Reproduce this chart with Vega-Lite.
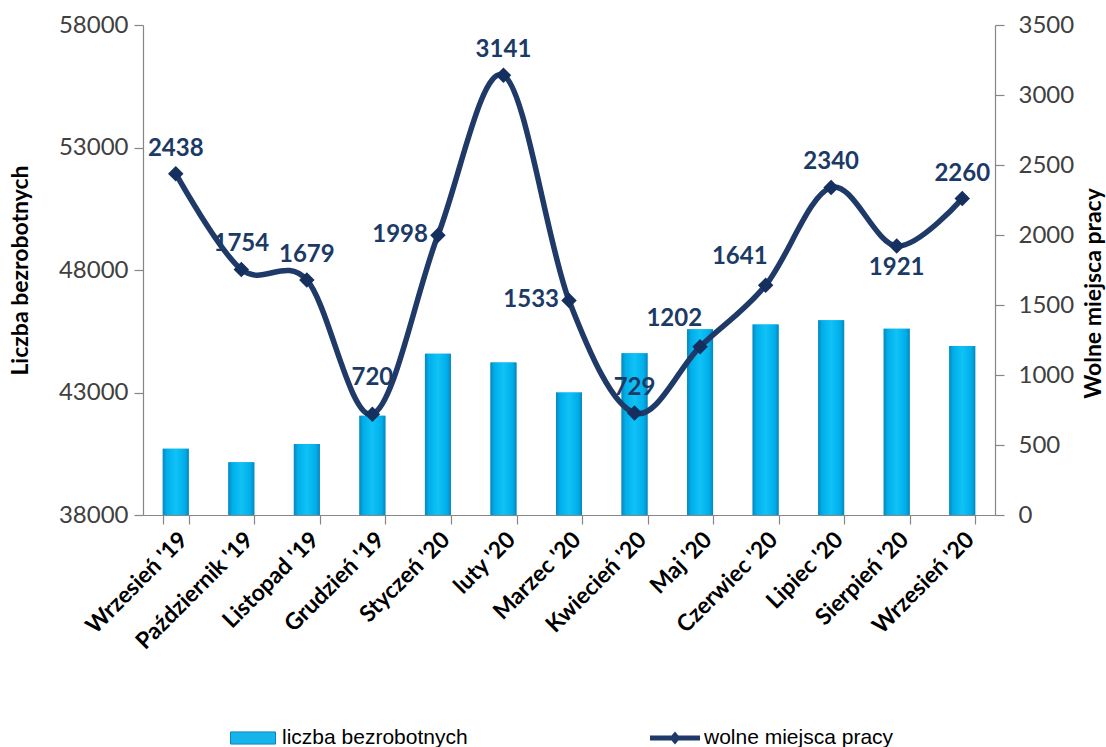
{
  "$schema": "https://vega.github.io/schema/vega-lite/v6.json",
  "width": 852,
  "height": 490,
  "autosize": {"type": "none"},
  "padding": {"left": 143, "top": 25, "right": 111, "bottom": 232},
  "background": "white",
  "config": {
    "view": {"stroke": null},
    "font": "Lato",
    "axis": {"domainColor": "#868686", "tickColor": "#868686", "labelColor": "#404040", "grid": false, "domainWidth": 1.2, "tickWidth": 1.2}
  },
  "data": {
    "values": [
      {"month": "Wrzesień '19", "bezrobotni": 40700, "wolne": 2438},
      {"month": "Październik '19", "bezrobotni": 40150, "wolne": 1754},
      {"month": "Listopad '19", "bezrobotni": 40900, "wolne": 1679},
      {"month": "Grudzień '19", "bezrobotni": 42050, "wolne": 720},
      {"month": "Styczeń '20", "bezrobotni": 44580, "wolne": 1998},
      {"month": "luty '20", "bezrobotni": 44220, "wolne": 3141},
      {"month": "Marzec '20", "bezrobotni": 43000, "wolne": 1533},
      {"month": "Kwiecień '20", "bezrobotni": 44600, "wolne": 729},
      {"month": "Maj '20", "bezrobotni": 45580, "wolne": 1202},
      {"month": "Czerwiec '20", "bezrobotni": 45780, "wolne": 1641},
      {"month": "Lipiec '20", "bezrobotni": 45950, "wolne": 2340},
      {"month": "Sierpień '20", "bezrobotni": 45600, "wolne": 1921},
      {"month": "Wrzesień '20", "bezrobotni": 44900, "wolne": 2260}
    ]
  },
  "encoding": {
    "x": {
      "field": "month", "type": "nominal", "sort": null,
      "scale": {"paddingInner": 0.6, "paddingOuter": 0.3},
      "axis": {
        "title": null, "labelAngle": -45, "labelFontSize": 23, "labelFontWeight": "bold",
        "labelColor": "#000000", "tickSize": 9, "tickBand": "extent", "labelPadding": 4, "labelLimit": 400
      }
    }
  },
  "layer": [
    {
      "layer": [
        {
          "mark": {"type": "bar", "width": 26},
          "encoding": {
            "y": {
              "field": "bezrobotni", "type": "quantitative",
              "scale": {"domain": [38000, 58000], "zero": false, "nice": false},
              "axis": {
                "values": [38000, 43000, 48000, 53000, 58000], "format": "d",
                "labelFontSize": 24, "tickSize": 9, "labelPadding": 6,
                "title": "Liczba bezrobotnych", "titleFontSize": 23, "titleFontWeight": "bold",
                "titleColor": "#000000", "titlePadding": 26
              }
            },
            "y2": {"datum": 38000},
            "fill": {
              "datum": "liczba bezrobotnych",
              "scale": {"range": ["#17B4EC"]},
              "legend": {
                "title": null, "orient": "none", "legendX": 87, "legendY": 690,
                "symbolType": "M-1,-0.27H1V0.27H-1Z", "symbolSize": 2025,
                "symbolStrokeColor": "#0C86B8", "symbolStrokeWidth": 1,
                "labelFont": "Liberation Sans Narrow, Liberation Sans", "labelFontSize": 21,
                "labelColor": "#000000", "labelOffset": 6, "labelLimit": 400
              }
            }
          }
        },
        {
          "mark": {
            "type": "bar", "width": 26,
            "color": {
              "gradient": "linear", "x1": 0, "x2": 1, "y1": 0, "y2": 0,
              "stops": [
                {"offset": 0, "color": "#0A86BA"},
                {"offset": 0.15, "color": "#00AEEA"},
                {"offset": 0.5, "color": "#10C2F6"},
                {"offset": 0.85, "color": "#00AEEA"},
                {"offset": 1, "color": "#0A86BA"}
              ]
            }
          },
          "encoding": {
            "y": {"field": "bezrobotni", "type": "quantitative"},
            "y2": {"datum": 38000}
          }
        }
      ]
    },
    {
      "layer": [
        {
          "mark": {"type": "line", "interpolate": "cardinal", "strokeWidth": 5.5},
          "encoding": {
            "y": {
              "field": "wolne", "type": "quantitative",
              "scale": {"domain": [0, 3500], "nice": false},
              "axis": {
                "orient": "right", "values": [0, 500, 1000, 1500, 2000, 2500, 3000, 3500], "format": "d",
                "labelFontSize": 24, "tickSize": 9, "labelPadding": 14,
                "title": "Wolne miejsca pracy", "titleFontSize": 23, "titleFontWeight": "bold",
                "titleColor": "#000000", "titleAngle": 270, "titlePadding": 32, "titleY": 268
              }
            },
            "stroke": {
              "datum": "wolne miejsca pracy",
              "scale": {"range": ["#1F3A68"]},
              "legend": {
                "title": null, "orient": "none", "legendX": 507, "legendY": 688,
                "symbolType": "M-1,-0.1H1V0.1H-1Z M0,-0.26L0.22,0L0,0.26L-0.22,0Z",
                "symbolSize": 2500, "symbolFillColor": "#1F3A68", "symbolStrokeWidth": 0,
                "labelFont": "Liberation Sans Narrow, Liberation Sans", "labelFontSize": 21,
                "labelColor": "#000000", "labelOffset": 4, "labelLimit": 400
              }
            }
          }
        },
        {
          "mark": {"type": "point", "shape": "diamond", "size": 240, "filled": true, "color": "#152F5E", "opacity": 1},
          "encoding": {"y": {"field": "wolne", "type": "quantitative"}}
        },
        {
          "transform": [{"filter": {"field": "month", "oneOf": ["Wrzesień '19", "Październik '19", "Listopad '19", "luty '20", "Kwiecień '20", "Lipiec '20", "Wrzesień '20"]}}],
          "mark": {"type": "text", "baseline": "bottom", "align": "center", "dy": -13, "fontSize": 24, "fontWeight": "bold", "color": "#1B3A66"},
          "encoding": {"y": {"field": "wolne", "type": "quantitative"}, "text": {"field": "wolne", "type": "quantitative", "format": "d"}}
        },
        {
          "transform": [{"filter": {"field": "month", "equal": "Grudzień '19"}}],
          "mark": {"type": "text", "baseline": "bottom", "align": "center", "dy": -24, "fontSize": 24, "fontWeight": "bold", "color": "#1B3A66"},
          "encoding": {"y": {"field": "wolne", "type": "quantitative"}, "text": {"field": "wolne", "type": "quantitative", "format": "d"}}
        },
        {
          "transform": [{"filter": {"field": "month", "oneOf": ["Styczeń '20", "Marzec '20"]}}],
          "mark": {"type": "text", "baseline": "middle", "align": "right", "dx": -10, "fontSize": 24, "fontWeight": "bold", "color": "#1B3A66"},
          "encoding": {"y": {"field": "wolne", "type": "quantitative"}, "text": {"field": "wolne", "type": "quantitative", "format": "d"}}
        },
        {
          "transform": [{"filter": {"field": "month", "oneOf": ["Maj '20", "Czerwiec '20"]}}],
          "mark": {"type": "text", "baseline": "bottom", "align": "right", "dx": 2, "dy": -16, "fontSize": 24, "fontWeight": "bold", "color": "#1B3A66"},
          "encoding": {"y": {"field": "wolne", "type": "quantitative"}, "text": {"field": "wolne", "type": "quantitative", "format": "d"}}
        },
        {
          "transform": [{"filter": {"field": "month", "equal": "Sierpień '20"}}],
          "mark": {"type": "text", "baseline": "top", "align": "center", "dy": 10, "fontSize": 24, "fontWeight": "bold", "color": "#1B3A66"},
          "encoding": {"y": {"field": "wolne", "type": "quantitative"}, "text": {"field": "wolne", "type": "quantitative", "format": "d"}}
        }
      ]
    }
  ],
  "resolve": {"scale": {"y": "independent", "fill": "independent", "stroke": "independent"}}
}
